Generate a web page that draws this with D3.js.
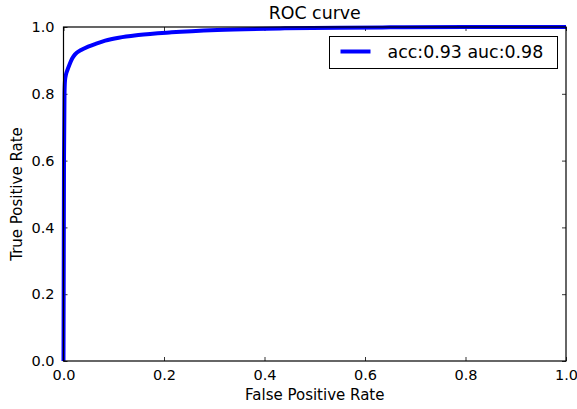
<!DOCTYPE html>
<html>
<head>
<meta charset="utf-8">
<script src="https://d3js.org/d3.v7.min.js"></script>
<style>
body{margin:0;background:#fff;font-family:'DejaVu Sans',sans-serif}
svg text{fill:#000}
</style>
</head>
<body>
<div id="chart"></div>
<script>
// ROC points
const fpr = [0, 0.0005, 0.001, 0.002, 0.003, 0.005, 0.008, 0.012, 0.017, 0.023, 0.035, 0.049, 0.065, 0.083, 0.11, 0.149, 0.215, 0.306, 0.44, 0.55, 0.65, 0.8, 1.0];
const tpr = [0, 0.3, 0.6, 0.8, 0.84, 0.858, 0.872, 0.888, 0.905, 0.918, 0.931, 0.941, 0.95, 0.959, 0.968, 0.976, 0.984, 0.991, 0.996, 0.998, 0.999, 1.0, 1.0];
const xTicks = [0, 0.2, 0.4, 0.6, 0.8, 1.0];
const yTicks = [0, 0.2, 0.4, 0.6, 0.8, 1.0];
const legendLabel = "acc:0.93 auc:0.98";

const W = 577, H = 409;
const m = {top: 27, right: 11, bottom: 48, left: 63.5};
const w = W - m.left - m.right, h = H - m.top - m.bottom;

const svg = d3.select("#chart").append("svg").attr("width", W).attr("height", H);
const g = svg.append("g").attr("transform", `translate(${m.left},${m.top})`);

const x = d3.scaleLinear().domain([0, 1]).range([0, w]);
const y = d3.scaleLinear().domain([0, 1]).range([h, 0]);
const fmt = d3.format(".1f");

// axes: ticks point inward on all four sides
const axes = [
  [d3.axisBottom(x).tickValues(xTicks).tickFormat(fmt), `translate(0,${h})`, true],
  [d3.axisLeft(y).tickValues(yTicks).tickFormat(fmt), null, true],
  [d3.axisTop(x).tickValues(xTicks).tickFormat(""), null, false],
  [d3.axisRight(y).tickValues(yTicks).tickFormat(""), `translate(${w},0)`, false]
];
axes.forEach(([ax, tr, labels]) => {
  const a = g.append("g").call(ax.tickSizeInner(-4).tickSizeOuter(0).tickPadding(labels ? 9 : 0));
  if (tr) a.attr("transform", tr);
  a.select(".domain").remove();
  a.selectAll("line").attr("stroke", "#000").attr("stroke-width", 0.8);
  a.selectAll("text").attr("font-family", "DejaVu Sans").attr("font-size", 14.5);
});

const line = d3.line().curve(d3.curveMonotoneX).x((d, i) => x(fpr[i])).y(d => y(d));
g.append("path").datum(tpr)
  .attr("d", line)
  .attr("fill", "none")
  .attr("stroke", "#0000ff")
  .attr("stroke-width", 4)
  .attr("stroke-linejoin", "round");

// frame
g.append("rect").attr("width", w).attr("height", h)
  .attr("fill", "none").attr("stroke", "#000").attr("stroke-width", 1.2);

// title and axis labels
g.append("text").attr("x", w / 2).attr("y", -8).attr("text-anchor", "middle")
  .attr("font-size", 17.4).text("ROC curve");
g.append("text").attr("x", w / 2).attr("y", h + 39).attr("text-anchor", "middle")
  .attr("font-size", 15).text("False Positive Rate");
svg.append("text")
  .attr("transform", `translate(22,${m.top + h / 2}) rotate(-90)`)
  .attr("text-anchor", "middle").attr("font-size", 15).text("True Positive Rate");

// legend
const lg = svg.append("g").attr("transform", "translate(329.5,36.5)");
lg.append("rect").attr("width", 228).attr("height", 32)
  .attr("fill", "#fff").attr("stroke", "#000").attr("stroke-width", 1);
lg.append("line").attr("x1", 11).attr("x2", 41).attr("y1", 15).attr("y2", 15)
  .attr("stroke", "#0000ff").attr("stroke-width", 4);
lg.append("text").attr("x", 58).attr("y", 21.5).attr("font-size", 17.4).text(legendLabel);
</script>
</body>
</html>
